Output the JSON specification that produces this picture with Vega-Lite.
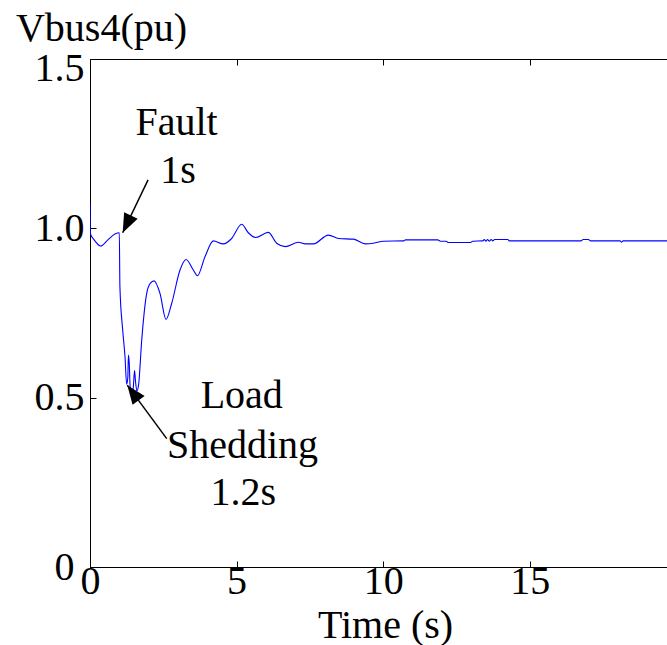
{
  "$schema": "https://vega.github.io/schema/vega-lite/v6.json",
  "width": 577,
  "height": 508,
  "autosize": {"type": "none"},
  "padding": {"left": 90, "top": 59, "right": 0, "bottom": 78},
  "background": "white",
  "config": {
    "view": {"stroke": "black", "strokeWidth": 1},
    "font": "Liberation Serif",
    "axis": {
      "labelFont": "Liberation Serif",
      "titleFont": "Liberation Serif",
      "labelFontSize": 40,
      "titleFontSize": 40,
      "labelColor": "black",
      "titleColor": "black",
      "titleFontWeight": "normal",
      "domainColor": "black",
      "tickColor": "black",
      "tickSize": -6,
      "grid": false,
      "labelFlush": false,
      "labelOverlap": false
    }
  },
  "resolve": {"axis": {"x": "independent"}},
  "datasets": {
    "curve": [
      {"t": 0, "v": 1.074}, {"t": 0.01, "v": 0.985}, {"t": 0.15, "v": 0.965}, {"t": 0.36, "v": 0.948},
      {"t": 0.6, "v": 0.965}, {"t": 0.85, "v": 0.983}, {"t": 1.0, "v": 0.987}, {"t": 1.02, "v": 0.828},
      {"t": 1.115, "v": 0.7}, {"t": 1.194, "v": 0.621}, {"t": 1.25, "v": 0.54}, {"t": 1.29, "v": 0.56},
      {"t": 1.31, "v": 0.626}, {"t": 1.34, "v": 0.6}, {"t": 1.37, "v": 0.53}, {"t": 1.42, "v": 0.515},
      {"t": 1.47, "v": 0.525}, {"t": 1.52, "v": 0.58}, {"t": 1.55, "v": 0.55}, {"t": 1.6, "v": 0.52},
      {"t": 1.66, "v": 0.54}, {"t": 1.764, "v": 0.67}, {"t": 1.934, "v": 0.808}, {"t": 2.06, "v": 0.838},
      {"t": 2.183, "v": 0.845}, {"t": 2.387, "v": 0.808}, {"t": 2.592, "v": 0.731}, {"t": 2.785, "v": 0.778},
      {"t": 3.07, "v": 0.877}, {"t": 3.274, "v": 0.908}, {"t": 3.524, "v": 0.877}, {"t": 3.66, "v": 0.86},
      {"t": 3.922, "v": 0.916}, {"t": 4.207, "v": 0.963}, {"t": 4.548, "v": 0.954}, {"t": 4.832, "v": 0.97},
      {"t": 5.173, "v": 1.012}, {"t": 5.4, "v": 0.987}, {"t": 5.65, "v": 0.973}, {"t": 6.08, "v": 0.988},
      {"t": 6.366, "v": 0.956}, {"t": 6.66, "v": 0.946}, {"t": 7.11, "v": 0.959}, {"t": 7.34, "v": 0.954},
      {"t": 7.62, "v": 0.954}, {"t": 8.13, "v": 0.98}, {"t": 8.48, "v": 0.97}, {"t": 8.99, "v": 0.968},
      {"t": 9.39, "v": 0.954}, {"t": 9.67, "v": 0.956}, {"t": 10.0, "v": 0.962}, {"t": 10.7, "v": 0.963},
      {"t": 10.76, "v": 0.966}, {"t": 11.86, "v": 0.966}, {"t": 11.95, "v": 0.962}, {"t": 12.15, "v": 0.962},
      {"t": 12.22, "v": 0.958}, {"t": 12.98, "v": 0.958}, {"t": 13.05, "v": 0.962}, {"t": 13.4, "v": 0.963},
      {"t": 13.45, "v": 0.967}, {"t": 13.5, "v": 0.962}, {"t": 13.56, "v": 0.967}, {"t": 13.62, "v": 0.962},
      {"t": 13.68, "v": 0.967}, {"t": 13.74, "v": 0.963}, {"t": 13.8, "v": 0.967}, {"t": 14.25, "v": 0.967},
      {"t": 14.3, "v": 0.963}, {"t": 16.75, "v": 0.963}, {"t": 16.82, "v": 0.967}, {"t": 17.0, "v": 0.967},
      {"t": 17.07, "v": 0.963}, {"t": 18.08, "v": 0.963}, {"t": 18.13, "v": 0.959}, {"t": 18.18, "v": 0.963},
      {"t": 19.68, "v": 0.963}
    ],
    "arrows": [
      {"name": "fault", "t": 1.98, "v": 1.143, "t2": 1.115, "v2": 0.987},
      {"name": "shed", "t": 2.616, "v": 0.379, "t2": 1.272, "v2": 0.537}
    ],
    "labels": [
      {"text": "Fault", "t": 2.95, "v": 1.276},
      {"text": "1s", "t": 3.0, "v": 1.134},
      {"text": "Load", "t": 5.175, "v": 0.469},
      {"text": "Shedding", "t": 5.2, "v": 0.321},
      {"text": "1.2s", "t": 5.23, "v": 0.182}
    ]
  },
  "layer": [
    {
      "data": {"name": "curve"},
      "mark": {"type": "line", "color": "#0000ff", "strokeWidth": 1.1, "clip": true, "interpolate": "monotone"},
      "encoding": {
        "x": {
          "field": "t", "type": "quantitative",
          "scale": {"domain": [0, 19.68], "nice": false, "zero": false},
          "axis": {
            "orient": "bottom",
            "values": [0, 5, 10, 15],
            "title": "Time (s)",
            "labelPadding": 0,
            "titleX": 295,
            "titleY": 70,
            "titleAlign": "center",
            "titleBaseline": "alphabetic"
          }
        },
        "y": {
          "field": "v", "type": "quantitative",
          "scale": {"domain": [0, 1.5], "nice": false},
          "axis": {
            "values": [0, 0.5, 1.0, 1.5],
            "labelExpr": "datum.value == 0 ? '0' : format(datum.value, '.1f')",
            "labelOffset": {"condition": {"test": "datum.value == 1.5", "value": 9}, "value": 0},
            "labelPadding": {"condition": {"test": "datum.value == 0", "value": 22}, "value": 12},
            "title": "Vbus4(pu)",
            "titleAngle": 0,
            "titleX": 11,
            "titleY": -19,
            "titleAlign": "center",
            "titleBaseline": "alphabetic"
          }
        }
      }
    },
    {
      "data": {"name": "arrows"},
      "mark": {"type": "rule", "color": "black", "strokeWidth": 1.5},
      "encoding": {
        "x": {"field": "t", "type": "quantitative", "axis": {"orient": "top", "values": [0, 5, 10, 15], "labels": false, "title": null, "domain": false}},
        "y": {"field": "v", "type": "quantitative"},
        "x2": {"field": "t2"},
        "y2": {"field": "v2"}
      }
    },
    {
      "data": {"name": "arrows"},
      "transform": [{"filter": "datum.name == 'fault'"}],
      "mark": {"type": "point", "shape": "M0,0L-0.79,2L0.79,2Z", "filled": true, "color": "black", "opacity": 1, "size": 361, "angle": 205.6, "strokeWidth": 0},
      "encoding": {
        "x": {"field": "t2", "type": "quantitative", "axis": null},
        "y": {"field": "v2", "type": "quantitative"}
      }
    },
    {
      "data": {"name": "arrows"},
      "transform": [{"filter": "datum.name == 'shed'"}],
      "mark": {"type": "point", "shape": "M0,0L-0.79,2L0.79,2Z", "filled": true, "color": "black", "opacity": 1, "size": 361, "angle": 323.5, "strokeWidth": 0},
      "encoding": {
        "x": {"field": "t2", "type": "quantitative", "axis": null},
        "y": {"field": "v2", "type": "quantitative"}
      }
    },
    {
      "data": {"name": "labels"},
      "mark": {"type": "text", "font": "Liberation Serif", "fontSize": 40, "color": "black", "align": "center", "baseline": "alphabetic"},
      "encoding": {
        "x": {"field": "t", "type": "quantitative", "axis": null},
        "y": {"field": "v", "type": "quantitative"},
        "text": {"field": "text"}
      }
    }
  ]
}
